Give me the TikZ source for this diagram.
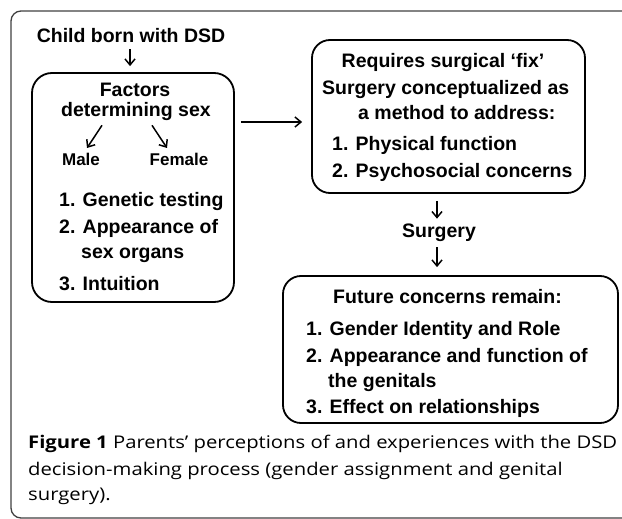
\documentclass[tikz,border=0pt]{standalone}
\usepackage{fontspec}
\usepackage{graphicx}
\setmainfont{Liberation Sans}
\newfontfamily\capfont{Open Sans}
\usetikzlibrary{arrows.meta,calc}
\newlength\capw
\newcommand\capfnt{\capfont\fontsize{17.5}{20}\selectfont}
\begin{document}
\settowidth\capw{\capfnt\textbf{Figure 1} Parents’ perceptions of and experiences with the DSD}%
\pgfmathsetmacro\capsc{589/\capw}%
\begin{tikzpicture}[x=1pt,y=-1pt,
  box/.style={draw, line width=1.8pt, rounded corners=18pt, inner sep=0pt},
  txt/.style={inner sep=0pt, font=\bfseries\fontsize{19.5}{20}\selectfont},
  smalltxt/.style={inner sep=0pt, font=\bfseries\fontsize{17}{18}\selectfont},
  captxt/.style={inner sep=0pt, anchor=base west, text=black},
  arr/.style={line width=1.5pt, -{Straight Barb[length=6pt,width=10pt,line width=1.5pt]}},
  frame/.style={draw=black!75, line width=1.3pt, rounded corners=10pt}]
\useasboundingbox (0,0) rectangle (622,519);
\clip (0,0) rectangle (622,519);
% outer frame
\draw[frame] (11,11) rectangle (660,518);
% boxes
\node[box, rounded corners=20pt, minimum width=202pt, minimum height=229pt] (box1) at (133,187.5) {};
\node[box, minimum width=273pt, minimum height=153pt] (box2) at (448.5,116.5) {};
\node[box, minimum width=335pt, minimum height=147pt] (box3) at (450.5,349.5) {};
% top label
\node[txt, anchor=base] (child) at (131,43) {Child born with DSD};
% box 1 text
\node[txt, anchor=base] (factors) at (135,97) {Factors};
\node[txt, anchor=base] (det) at (136,117) {determining sex};
\node[smalltxt, anchor=base] (male) at (81,165) {Male};
\node[smalltxt, anchor=base] (female) at (179,165) {Female};
\node[txt, anchor=base west] (g1) at (59,206) {1. Genetic testing};
\node[txt, anchor=base west] (g2) at (59,233) {2. Appearance of};
\node[txt, anchor=base west] (g2b) at (81,258) {sex organs};
\node[txt, anchor=base west] (g3) at (59,290) {3. Intuition};
% box 2 text
\node[txt, anchor=base] (req) at (443,68) {Requires surgical ‘fix’};
\node[txt, anchor=base west] (s1) at (322,95) {Surgery conceptualized as};
\node[txt, anchor=base west] (s2) at (358,120) {a method to address:};
\node[txt, anchor=base west] (p1) at (332,150) {1. Physical function};
\node[txt, anchor=base west] (p2) at (332,178) {2. Psychosocial concerns};
% surgery
\node[txt, anchor=base] (surg) at (439,237) {Surgery};
% box 3 text
\node[txt, anchor=base west] (fut) at (333,303) {Future concerns remain:};
\node[txt, anchor=base west] (f1) at (306,335) {1. Gender Identity and Role};
\node[txt, anchor=base west] (f2) at (306,362) {2. Appearance and function of};
\node[txt, anchor=base west] (f2b) at (328,387) {the genitals};
\node[txt, anchor=base west] (f3) at (306,413) {3. Effect on relationships};
% connectors
\draw[arr, shorten <=6pt, shorten >=6pt] ([xshift=-1pt]child.south) -- ([xshift=-1pt]child.south |- box1.north);
\draw[arr] ($(det.south)+(-34,4)$) -- ($(male.north)+(6,-4.5)$);
\draw[arr] ($(det.south)+(16,4)$) -- ($(female.north)+(-12,-4.5)$);
\coordinate (hy) at (0,122);
\draw[arr, shorten <=6pt, shorten >=9pt] (box1.east |- hy) -- (box2.west |- hy);
\draw[arr, shorten <=7pt, shorten >=4.5pt] ([xshift=-2pt]box2.south -| surg.north) -- ([xshift=-2pt]surg.north);
\draw[arr, shorten <=6pt, shorten >=8pt] ([xshift=-2pt]surg.south) -- ([xshift=-2pt]surg.south |- box3.north);
% caption
\node[captxt] (cap1) at (28,448) {\scalebox{\capsc}[1]{\capfnt\textbf{Figure 1} Parents’ perceptions of and experiences with the DSD}};
\node[captxt] (cap2) at (28,475) {\scalebox{\capsc}[1]{\capfnt decision-making process (gender assignment and genital}};
\node[captxt] (cap3) at (28,500) {\scalebox{\capsc}[1]{\capfnt surgery).}};
\end{tikzpicture}
\end{document}
